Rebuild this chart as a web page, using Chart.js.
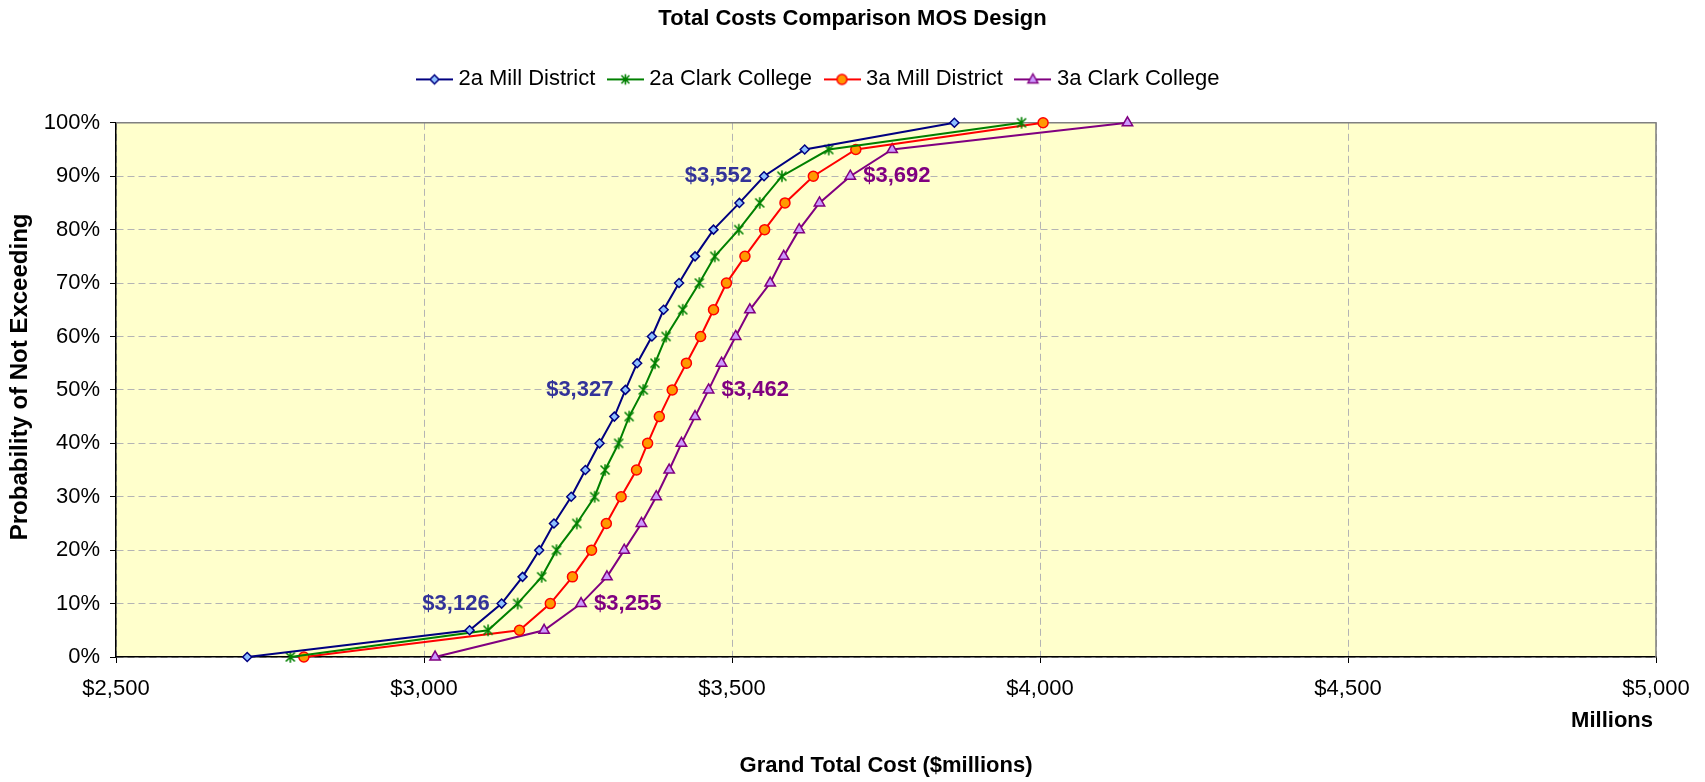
<!DOCTYPE html>
<html>
<head>
<meta charset="utf-8">
<title>Total Costs Comparison MOS Design</title>
<script src="https://cdn.jsdelivr.net/npm/chart.js@4.4.0/dist/chart.umd.min.js"></script>
<style>
    html, body { margin: 0; padding: 0; background: #fff; }
    #wrap { width: 1705px; height: 782px; }
</style>
</head>
<body>
<div id="wrap"><canvas id="costChart" width="1705" height="782"></canvas></div>
<script>
// probability of not exceeding, in percent
const probability = [0, 5, 10, 15, 20, 25, 30, 35, 40, 45, 50, 55, 60, 65, 70, 75, 80, 85, 90, 95, 100];

// grand total cost, $ millions
const mill2a  = [2713, 3074, 3126, 3160, 3187, 3211, 3239, 3262, 3285, 3309, 3327, 3346, 3370, 3389, 3414, 3440, 3470, 3512, 3552, 3618, 3861];
const clark2a = [2783, 3104, 3152, 3191, 3215, 3248, 3277, 3294, 3316, 3333, 3356, 3375, 3393, 3420, 3447, 3472, 3511, 3545, 3581, 3657, 3970];
const mill3a  = [2805, 3155, 3205, 3241, 3272, 3296, 3320, 3345, 3363, 3382, 3403, 3426, 3449, 3470, 3491, 3521, 3553, 3586, 3632, 3701, 4005];
const clark3a = [3018, 3195, 3255, 3297, 3325, 3353, 3377, 3398, 3418, 3440, 3462, 3483, 3506, 3529, 3562, 3584, 3609, 3642, 3692, 3760, 4142];

const seriesNames = ['2a Mill District', '2a Clark College', '3a Mill District', '3a Clark College'];
const xRange = [2500, 5000];
const xStep = 500;
const yRange = [0, 100];
const yStep = 10;

// series and levels that carry a value label
const labeledSeries = ['2a Mill District', '3a Clark College'];
const labeledLevels = [10, 50, 90];

const FONT = '"Liberation Sans", Arial, sans-serif';
Chart.defaults.font.family = FONT;

// small canvas icons used for markers and legend entries
function makeIcon(w, h, draw) {
    const c = document.createElement('canvas');
    c.width = w;
    c.height = h;
    draw(c.getContext('2d'), w / 2, h / 2);
    return c;
}

function drawAsterisk(ctx, cx, cy, r) {
    ctx.strokeStyle = '#008000';
    ctx.lineWidth = 1.6;
    ctx.beginPath();
    ctx.moveTo(cx - r, cy - r); ctx.lineTo(cx + r, cy + r);
    ctx.moveTo(cx + r, cy - r); ctx.lineTo(cx - r, cy + r);
    ctx.moveTo(cx, cy - r * 1.3); ctx.lineTo(cx, cy + r * 1.3);
    ctx.stroke();
}

const asteriskMarker = makeIcon(14, 14, (ctx, cx, cy) => drawAsterisk(ctx, cx, cy, 4.5));

const markerDrawers = [
    (ctx, cx, cy) => {
        ctx.beginPath();
        ctx.moveTo(cx - 4.5, cy); ctx.lineTo(cx, cy - 4.5); ctx.lineTo(cx + 4.5, cy); ctx.lineTo(cx, cy + 4.5);
        ctx.closePath();
        ctx.fillStyle = '#8ec0ff'; ctx.fill();
        ctx.strokeStyle = '#000080'; ctx.lineWidth = 1.5; ctx.stroke();
    },
    (ctx, cx, cy) => drawAsterisk(ctx, cx, cy, 4),
    (ctx, cx, cy) => {
        ctx.beginPath();
        ctx.arc(cx, cy, 5, 0, Math.PI * 2);
        ctx.fillStyle = '#ff9900'; ctx.fill();
        ctx.strokeStyle = '#ff0000'; ctx.lineWidth = 1.5; ctx.stroke();
    },
    (ctx, cx, cy) => {
        ctx.beginPath();
        ctx.moveTo(cx, cy - 5.5); ctx.lineTo(cx + 5, cy + 3.5); ctx.lineTo(cx - 5, cy + 3.5);
        ctx.closePath();
        ctx.fillStyle = '#cc99ff'; ctx.fill();
        ctx.strokeStyle = '#800080'; ctx.lineWidth = 1.5; ctx.stroke();
    }
];
const lineColors = ['#000080', '#008000', '#ff0000', '#800080'];

const legendIcons = markerDrawers.map((drawMarker, i) => makeIcon(37, 16, (ctx, cx, cy) => {
    ctx.strokeStyle = lineColors[i];
    ctx.lineWidth = 2;
    ctx.beginPath();
    ctx.moveTo(0, cy); ctx.lineTo(37, cy);
    ctx.stroke();
    drawMarker(ctx, cx, cy);
}));

function toPoints(values) {
    return values.map((v, i) => ({ x: v, y: probability[i] }));
}

const plotFrame = {
    id: 'plotFrame',
    beforeDraw(chart) {
        const { ctx, chartArea: a } = chart;
        ctx.save();
        ctx.fillStyle = '#ffffcc';
        ctx.fillRect(a.left, a.top, a.right - a.left, a.bottom - a.top);
        ctx.restore();
    },
    beforeDatasetsDraw(chart) {
        const { ctx, chartArea: a } = chart;
        ctx.save();
        ctx.strokeStyle = '#808080';
        ctx.lineWidth = 1.5;
        ctx.beginPath();
        ctx.moveTo(a.left, a.top);
        ctx.lineTo(a.right, a.top);
        ctx.lineTo(a.right, a.bottom);
        ctx.stroke();
        ctx.restore();
    },
    afterDraw(chart) {
        const { ctx, chartArea: a } = chart;
        ctx.save();
        ctx.fillStyle = '#000';
        ctx.textBaseline = 'middle';
        ctx.font = 'bold 22px ' + FONT;
        ctx.textAlign = 'right';
        ctx.fillText('Millions', a.right - 3, a.bottom + 64);
        // y axis title sits a bit above the axis middle, as in the original
        ctx.font = 'bold 24px ' + FONT;
        ctx.textAlign = 'center';
        ctx.translate(20, (a.top + a.bottom) / 2 - 13);
        ctx.rotate(-Math.PI / 2);
        ctx.fillText('Probability of Not Exceeding', 0, 0);
        ctx.restore();
    }
};

// value labels next to the 10 / 50 / 90 % points
const valueLabels = {
    id: 'valueLabels',
    afterDatasetsDraw(chart) {
        const ctx = chart.ctx;
        ctx.save();
        ctx.font = 'bold 22px ' + FONT;
        ctx.textBaseline = 'middle';
        labeledSeries.forEach((name, k) => {
            const di = seriesNames.indexOf(name);
            const meta = chart.getDatasetMeta(di);
            const data = chart.data.datasets[di].data;
            labeledLevels.forEach(level => {
                const idx = probability.indexOf(level);
                const pt = meta.data[idx];
                const text = '$' + data[idx].x.toLocaleString('en-US');
                if (k === 0) {
                    ctx.fillStyle = '#333399';
                    ctx.textAlign = 'right';
                    ctx.fillText(text, pt.x - 12, pt.y);
                } else {
                    ctx.fillStyle = '#800080';
                    ctx.textAlign = 'left';
                    ctx.fillText(text, pt.x + 13, pt.y);
                }
            });
        });
        ctx.restore();
    }
};

// Excel centred its legend a little left of the title
const legendOffset = {
    id: 'legendOffset',
    afterLayout(chart) {
        chart.legend.left -= 32;
        chart.legend.right -= 32;
    }
};

const tickFont = { size: 22 };
const axisTitleFont = { size: 22, weight: 'bold' };
const gridStyle = { color: '#b4b4b4', tickColor: '#000', tickLength: 6, tickBorderDash: [] };
const borderStyle = { color: '#000', width: 1.5, dash: [7, 4] };

const seriesValues = [mill2a, clark2a, mill3a, clark3a];
const pointStyles = ['rectRot', asteriskMarker, 'circle', 'triangle'];
const pointFills = ['#8ec0ff', '#008000', '#ff9900', '#cc99ff'];
const pointRadii = [4.5, 5, 5, 6];

const ctx = document.getElementById('costChart').getContext('2d');
new Chart(ctx, {
    type: 'line',
    data: {
        datasets: seriesValues.map((vals, i) => ({
            label: seriesNames[i],
            data: toPoints(vals),
            borderColor: lineColors[i],
            borderWidth: 2,
            pointStyle: pointStyles[i],
            pointRadius: pointRadii[i],
            pointBackgroundColor: pointFills[i],
            pointBorderColor: lineColors[i],
            pointBorderWidth: 1.5,
            tension: 0,
            fill: false,
            clip: false
        }))
    },
    options: {
        responsive: false,
        animation: false,
        events: [],
        layout: { padding: 0 },
        plugins: {
            title: {
                display: true,
                text: 'Total Costs Comparison MOS Design',
                color: '#000',
                font: { size: 22, weight: 'bold' },
                padding: { top: 6, bottom: 19 }
            },
            // empty box: just the white gap between legend and plot
            subtitle: {
                display: true,
                text: '',
                weight: 500,
                font: { size: 12 },
                padding: { top: 8, bottom: 0 }
            },
            legend: {
                position: 'top',
                labels: {
                    usePointStyle: true,
                    pointStyleWidth: 26,
                    padding: 17,
                    color: '#000',
                    font: { size: 22 },
                    generateLabels(chart) {
                        return chart.data.datasets.map((ds, i) => ({
                            text: ds.label,
                            pointStyle: legendIcons[i],
                            fillStyle: 'transparent',
                            strokeStyle: 'transparent',
                            lineWidth: 0,
                            fontColor: '#000',
                            hidden: false,
                            datasetIndex: i
                        }));
                    }
                }
            },
            tooltip: { enabled: false }
        },
        scales: {
            x: {
                type: 'linear',
                min: xRange[0],
                max: xRange[1],
                ticks: {
                    stepSize: xStep,
                    maxRotation: 0,
                    color: '#000',
                    font: tickFont,
                    padding: 13,
                    callback: v => '$' + v.toLocaleString('en-US')
                },
                grid: gridStyle,
                border: borderStyle,
                title: {
                    display: true,
                    text: 'Grand Total Cost ($millions)',
                    color: '#000',
                    font: axisTitleFont,
                    padding: { top: 0, bottom: 3 }
                },
                afterFit(scale) {
                    scale.height = 125;
                    scale.paddingRight = 49;
                }
            },
            y: {
                min: yRange[0],
                max: yRange[1],
                ticks: {
                    stepSize: yStep,
                    color: '#000',
                    font: tickFont,
                    padding: 10,
                    callback: v => v + '%'
                },
                grid: gridStyle,
                border: borderStyle,
                afterFit(scale) {
                    scale.width = 116;
                }
            }
        }
    },
    plugins: [plotFrame, valueLabels, legendOffset]
});
</script>
</body>
</html>
